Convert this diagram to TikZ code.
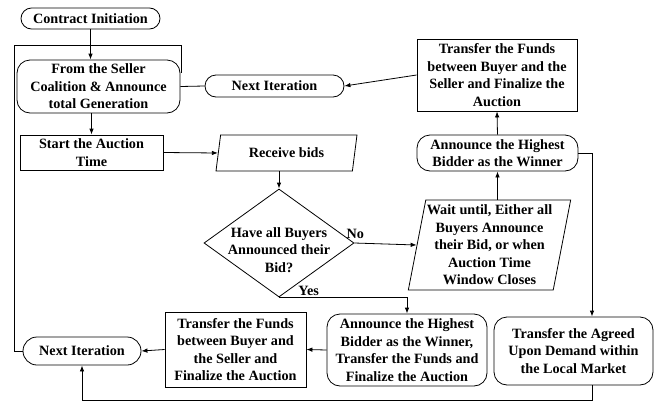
\documentclass[tikz,border=0pt]{standalone}
\usepackage{fontspec}
\setmainfont{Liberation Serif}
\usetikzlibrary{shapes.geometric,shapes.misc,arrows.meta,calc}
\tikzset{
  base/.style={draw, line width=0.8pt, align=center, inner sep=1pt,
    font=\bfseries\fontsize{14.2}{17.5}\selectfont},
  term/.style={base, rounded rectangle},
  rbox/.style={base, rectangle, rounded corners=13pt},
  pbox/.style={base, rectangle},
  iobox/.style={base, trapezium, trapezium stretches body=true},
  dbox/.style={base, diamond},
  txt/.style={align=center, inner sep=0pt, font=\bfseries\fontsize{14.2}{17.5}\selectfont},
  conn/.style={line width=0.8pt},
  arr/.style={conn, -{Latex[length=6pt,width=4.5pt]}}
}
\begin{document}
\begin{tikzpicture}[x=1pt,y=-1pt]
\useasboundingbox (0,0) rectangle (654,402);
\node[term, minimum width=141pt, minimum height=21pt] (ci) at (90.5,18.5) {Contract Initiation};
\node[rbox, minimum width=163pt, minimum height=53pt] (fs) at (98.5,86.5) {From the Seller\\Coalition \& Announce\\total Generation};
\node[term, minimum width=141pt, minimum height=22pt] (ni1) at (274.5,86) {Next Iteration};
\node[pbox, minimum width=160pt, minimum height=72pt] (tf1) at (497,75) {Transfer the Funds\\between Buyer and the\\Seller and Finalize the\\Auction};
\node[rbox, minimum width=161pt, minimum height=36pt] (ah1) at (497.5,153) {Announce the Highest\\Bidder as the Winner};
\node[pbox, minimum width=143pt, minimum height=35pt] (sa) at (91.5,152.5) {Start the Auction\\Time};
\node[iobox, trapezium left angle=69, trapezium right angle=111, minimum width=141pt, minimum height=36pt] (rb) at (286.5,153) {Receive bids};
\node[dbox, minimum width=150pt, minimum height=108pt] (dia) at (279,243) {};
\node[txt] (diat) at (279,250) {Have all Buyers\\Announced their\\Bid?};
\node[iobox, trapezium left angle=78, trapezium right angle=102, minimum width=157pt, minimum height=90pt] (wt) at (489.5,245) {Wait until, Either all\\Buyers Announce\\their Bid, or when\\Auction Time\\Window Closes};
\node[rbox, minimum width=160pt, minimum height=72pt] (ah2) at (407,350) {Announce the Highest\\Bidder as the Winner,\\Transfer the Funds and\\Finalize the Auction};
\node[rbox, minimum width=159pt, minimum height=68pt] (ta) at (573.5,351) {Transfer the Agreed\\Upon Demand within\\the Local Market};
\node[pbox, minimum width=141pt, minimum height=75pt] (tf2) at (235.5,349.5) {Transfer the Funds\\between Buyer and\\the Seller and\\Finalize the Auction};
\node[term, minimum width=120pt, minimum height=28pt] (ni2) at (82,351) {Next Iteration};
\coordinate (c1) at (592,0);
\coordinate (c2) at (592,400);
\coordinate (c3) at (181,45);
\coordinate (c4) at (14,45);

\draw[arr] (ci.south) -- (ci.south |- fs.north);
\draw[arr] (sa.north |- fs.south) -- (sa.north);
\draw[conn] (fs.east) -- (ni1.west);
\draw[arr] (tf1.west) -- (ni1.east);
\draw[arr] (ah1.north) -- (tf1.south);
\draw[arr] (ah1.east) -| (c1 |- ta.north);
\draw[arr] (sa.east) -- (rb.west);
\draw[arr] (dia.north |- rb.south) -- (dia.north);
\draw[arr] (dia.east) -- node[txt, pos=0, above, inner sep=4pt, xshift=1pt] {No} (wt.west);
\draw[arr] (ah1.south |- wt.north) -- (ah1.south);
\draw[arr] (dia.south) -| node[txt, pos=0.07, above right, inner sep=1pt] {Yes} (ah2.north);
\draw[arr] (ah2.west) -- (tf2.east);
\draw[arr] (tf2.west) -- (ni2.east);
\draw[arr] (c1 |- ta.south) -- (c2) -| (ni2.south);
\draw[conn] (ni2.west) -| (c4) -- (c3) -- ($(c3 |- fs.north)+(0,13)$);
\end{tikzpicture}
\end{document}
